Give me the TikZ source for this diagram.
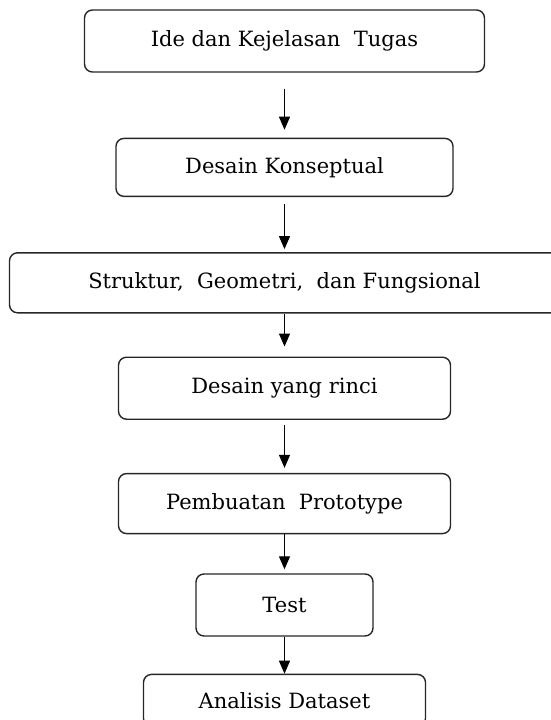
\documentclass[tikz,border=0pt]{standalone}
\usepackage{fontspec}
\setmainfont{DejaVu Serif}
\usetikzlibrary{arrows.meta,positioning}

\begin{document}
\begin{tikzpicture}[
    x=1pt, y=1pt,
    node distance=50pt,
    stage/.style={rectangle, rounded corners=8pt, draw=black!85, line width=1.4pt,
        minimum height=60pt, inner sep=0pt, font=\fontsize{21}{25}\selectfont},
    flow/.style={-{Triangle[width=11pt,length=13pt]}, line width=1.2pt}
]
\useasboundingbox (0,0) rectangle (550,-720);

\node[stage, minimum width=400pt, minimum height=62pt] (ide) at (284.5,-41) {Ide dan Kejelasan\ \ Tugas};
\node[stage, minimum width=337pt, minimum height=58pt, below=65pt of ide] (konsep) {Desain Konseptual};
\node[stage, minimum width=550pt, below=55pt of konsep] (struktur) {Struktur,\ \ Geometri,\ \ dan Fungsional};
\node[stage, minimum width=332pt, minimum height=62pt, below=43pt of struktur] (rinci) {Desain yang rinci};
\node[stage, minimum width=332pt, below=53pt of rinci] (proto) {Pembuatan\ \ Prototype};
\node[stage, minimum width=177pt, minimum height=62pt, below=39pt of proto] (test) {Test};
\node[stage, minimum width=282pt, minimum height=52pt, below=37pt of test] (analisis) {Analisis Dataset};

\draw[flow, shorten <=16pt, shorten >=8pt] (ide) -- (konsep);
\draw[flow, shorten <=7pt, shorten >=3pt] (konsep) -- (struktur);
\draw[flow, shorten >=10pt] (struktur) -- (rinci);
\draw[flow, shorten <=5pt, shorten >=5pt] (rinci) -- (proto);
\draw[flow, shorten >=4pt] (proto) -- (test);
\draw[flow] (test) -- (analisis);
\end{tikzpicture}
\end{document}
